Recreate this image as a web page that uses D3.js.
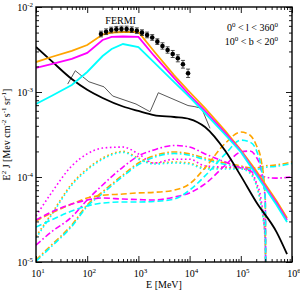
<!DOCTYPE html>
<html>
<head>
<meta charset="utf-8">
<script src="https://cdn.jsdelivr.net/npm/d3@7"></script>
<style>
body { margin: 0; background: #fff; }
text { font-family: "Liberation Serif", "Times New Roman", serif; fill: #000; }
</style>
</head>
<body>
<svg width="300" height="290"></svg>
<script>
// energies in MeV, fluxes in Mev cm^-2 s^-1 sr^-1
var lowE = [10, 20, 50, 100, 200, 500, 1e3, 2e3, 5e3, 1e4, 2e4, 5e4, 1e5, 1.5e5, 2e5, 2.5e5, 3e5, 3.1e5];
var magentaDotted = [3.48e-5, 6.5e-5, 1.35e-4, 1.87e-4, 2.19e-4, 2.25e-4, 1.87e-4, 1.46e-4, 1.62e-4, 1.62e-4, 1.35e-4, 1.31e-4, 1.31e-4, 1.21e-4, 8.7e-5, 5.36e-5, 1.82e-5, 1e-6];
var orangeDotted = [2.0e-5, 3.68e-5, 8.3e-5, 1.25e-4, 1.67e-4, 2.0e-4, 1.67e-4, 1.46e-4, 1.5e-4, 1.46e-4, 1.28e-4, 1.28e-4, 1.28e-4, 1.15e-4, 8.3e-5, 4.69e-5, 1.82e-5, 1e-6];
var cyanDotted = [1.92e-5, 3.55e-5, 8.0e-5, 1.21e-4, 1.62e-4, 1.95e-4, 1.62e-4, 1.42e-4, 1.46e-4, 1.42e-4, 1.24e-4, 1.24e-4, 1.24e-4, 1.11e-4, 8.0e-5, 4.5e-5, 1.75e-5, 1e-6];
var magentaDashed = [3.12e-5, 3.87e-5, 4.81e-5, 5.36e-5, 5.66e-5, 5.5e-5, 5.43e-5, 5.36e-5, 5.8e-5, 6.5e-5, 8.3e-5, 1.38e-4, 1.97e-4, 2.02e-4, 1.72e-4, 1.21e-4, 5.36e-5, 1e-6];
var orangeDashed = [3.04e-5, 3.77e-5, 4.81e-5, 5.66e-5, 6.1e-5, 6.3e-5, 6.5e-5, 6.6e-5, 7.0e-5, 8.3e-5, 1.28e-4, 2.5e-4, 3.38e-4, 3.12e-4, 2.38e-4, 1.58e-4, 5.8e-5, 1e-6];
var cyanDashed = [2.58e-5, 3.12e-5, 3.98e-5, 4.56e-5, 4.94e-5, 5.08e-5, 5.08e-5, 5.15e-5, 5.5e-5, 7.0e-5, 1.03e-4, 1.87e-4, 2.72e-4, 2.58e-4, 2.08e-4, 1.28e-4, 5.36e-5, 1e-6];

var dashDotE = [10, 20, 50, 100, 200, 500, 1e3, 2e3, 5e3, 1e4, 2e4, 5e4, 1e5, 1.5e5, 2e5, 2.5e5, 3e5, 4.7e5, 1e6];
var magentaDashDot = [1.58e-5, 2.26e-5, 3.39e-5, 5.36e-5, 8.05e-5, 1.31e-4, 1.77e-4, 2.08e-4, 2.35e-4, 2.25e-4, 1.87e-4, 1.5e-4, 1.28e-4, 1.18e-4, 1.09e-4, 1.03e-4, 1.0e-4, 9.7e-5, 1.0e-4];
var orangeDashDot = [1.06e-5, 1.58e-5, 2.73e-5, 4.69e-5, 6.7e-5, 1.06e-4, 1.46e-4, 1.77e-4, 1.97e-4, 1.87e-4, 1.67e-4, 1.46e-4, 1.35e-4, 1.28e-4, 1.28e-4, 1.31e-4, 1.35e-4, 1.38e-4, 1.5e-4];
var cyanDashDot = [1.02e-5, 1.52e-5, 2.62e-5, 4.5e-5, 6.4e-5, 1.02e-4, 1.4e-4, 1.7e-4, 1.89e-4, 1.8e-4, 1.6e-4, 1.4e-4, 1.3e-4, 1.23e-4, 1.23e-4, 1.26e-4, 1.3e-4, 1.33e-4, 1.44e-4];

var solidE = [10, 20, 50, 100, 200, 300, 500, 1e3, 2e3, 5e3, 1e4, 2e4, 5e4, 1e5, 2e5, 5e5, 8e5];
var orangeSolid = [2.25e-3, 2.58e-3, 3.04e-3, 3.57e-3, 4.74e-3, 5.01e-3, 5.08e-3, 5.08e-3, 3.04e-3, 1.57e-3, 1.0e-3, 6.48e-4, 3.47e-4, 2.08e-4, 1.18e-4, 5.22e-5, 3.29e-5];
var magentaSolid = [1.92e-3, 2.13e-3, 2.45e-3, 2.88e-3, 4.09e-3, 4.44e-3, 4.5e-3, 4.44e-3, 2.69e-3, 1.46e-3, 9.2e-4, 5.98e-4, 3.29e-4, 2.02e-4, 1.11e-4, 4.94e-5, 3.12e-5];
var cyanSolid = [7.22e-4, 8.97e-4, 1.21e-3, 1.72e-3, 2.65e-3, 3.21e-3, 3.67e-3, 3.38e-3, 2.25e-3, 1.31e-3, 8.73e-4, 5.66e-4, 3.12e-4, 1.97e-4, 1.06e-4, 4.69e-5, 2.96e-5];

var blackE = [10, 20, 50, 100, 200, 500, 1e3, 2e3, 5e3, 1e4, 2e4, 5e4, 1e5, 2e5, 5e5, 8e5];
var blackSolid = [3.38e-3, 2.32e-3, 1.42e-3, 1.06e-3, 8.5e-4, 6.75e-4, 5.98e-4, 5.36e-4, 5.08e-4, 4.81e-4, 3.87e-4, 2.02e-4, 1.03e-4, 5.08e-5, 2.25e-5, 1.24e-5];

var grayE = [41.6, 58.6, 108, 213, 315, 898, 1690, 2450, 9300, 12700, 17200, 25000];
var graySolid = [1.24e-3, 1.78e-3, 1.32e-3, 1.15e-3, 8.97e-4, 7.22e-4, 5.86e-4, 9.8e-4, 6.93e-4, 6.72e-4, 6.43e-4, 3.74e-4];

var fermiE = [186, 234, 295, 371, 467, 588, 741, 933, 1175, 1479, 1862, 2344, 2951, 3715, 4677, 5888, 7413, 9333];
var fermiFlux = [4.81e-3, 5.12e-3, 5.36e-3, 5.47e-3, 5.51e-3, 5.51e-3, 5.41e-3, 5.26e-3, 4.99e-3, 4.69e-3, 4.38e-3, 3.91e-3, 3.48e-3, 3.12e-3, 2.8e-3, 2.49e-3, 2.12e-3, 1.66e-3];
var fermiErr = [0.08, 0.08, 0.08, 0.08, 0.08, 0.08, 0.08, 0.08, 0.08, 0.08, 0.08, 0.08, 0.09, 0.09, 0.1, 0.1, 0.11, 0.12];

var xMajor = [10, 100, 1e3, 1e4, 1e5, 1e6];
var xLabels = ["1", "2", "3", "4", "5", "6"];
var yMajor = [1e-5, 1e-4, 1e-3, 1e-2];
var yLabels = ["-5", "-4", "-3", "-2"];

var svg = d3.select("svg");
var margin = { top: 7, right: 8, bottom: 28, left: 36 },
    width = +svg.attr("width") - margin.left - margin.right,
    height = +svg.attr("height") - margin.top - margin.bottom;

var x = d3.scaleLog().domain([10, 1e6]).range([0, width]);
var y = d3.scaleLog().domain([1e-5, 1e-2]).range([height, 0]);

function minors(lo, hi) {
    var out = [];
    for (var p = lo; p < hi; p++)
        for (var k = 2; k <= 9; k++) out.push(k * Math.pow(10, p));
    return out;
}
var xMinor = minors(1, 6), yMinor = minors(-5, -2);

var g = svg.append("g").attr("transform", "translate(" + margin.left + "," + margin.top + ")");

g.append("clipPath").attr("id", "clip")
    .append("rect").attr("width", width).attr("height", height);

var plot = g.append("g").attr("clip-path", "url(#clip)");

function draw(es, vs, color, w, dash, curve) {
    var line = d3.line()
        .x(function (d) { return x(d[0]); })
        .y(function (d) { return y(d[1]); })
        .curve(curve || d3.curveMonotoneX);
    plot.append("path")
        .datum(d3.zip(es, vs))
        .attr("d", line)
        .attr("fill", "none")
        .attr("stroke", color)
        .attr("stroke-width", w)
        .attr("stroke-dasharray", dash || null);
}

var DOT = "1.6,2.6", DASH = "6,3", DASHDOT = "6,2.5,1.6,2.5";
var ORANGE = "#ffa500", MAGENTA = "#ff00ff", CYAN = "#00ffff";

draw(dashDotE, orangeDashDot, ORANGE, 1.6, DASHDOT);
draw(dashDotE, cyanDashDot, CYAN, 1.6, DASHDOT);
draw(dashDotE, magentaDashDot, MAGENTA, 1.6, DASHDOT);
draw(lowE, orangeDotted, ORANGE, 1.6, DOT);
draw(lowE, cyanDotted, CYAN, 1.6, DOT);
draw(lowE, magentaDotted, MAGENTA, 1.6, DOT);
draw(lowE, orangeDashed, ORANGE, 1.6, DASH);
draw(lowE, magentaDashed, MAGENTA, 1.6, DASH);
draw(lowE, cyanDashed, CYAN, 1.6, DASH);

draw(grayE, graySolid, "#444", 0.9, null, d3.curveLinear);
draw(blackE, blackSolid, "#000", 1.8);
draw(solidE, orangeSolid, ORANGE, 1.8, null, d3.curveLinear);
draw(solidE, magentaSolid, MAGENTA, 1.8, null, d3.curveLinear);
draw(solidE, cyanSolid, CYAN, 1.8, null, d3.curveLinear);

// FERMI points
var fermi = d3.zip(fermiE, fermiFlux, fermiErr);
var pts = g.append("g");
pts.selectAll("line.bar").data(fermi).enter().append("line")
    .attr("x1", function (d) { return x(d[0]); })
    .attr("x2", function (d) { return x(d[0]); })
    .attr("y1", function (d) { return y(d[1] * (1 + d[2])); })
    .attr("y2", function (d) { return y(d[1] / (1 + d[2])); })
    .attr("stroke", "#222").attr("stroke-width", 0.8);
[1, -1].forEach(function (s) {
    pts.selectAll("line.cap" + s).data(fermi).enter().append("line")
        .attr("x1", function (d) { return x(d[0]) - 2; })
        .attr("x2", function (d) { return x(d[0]) + 2; })
        .attr("y1", function (d) { return y(s > 0 ? d[1] * (1 + d[2]) : d[1] / (1 + d[2])); })
        .attr("y2", function (d) { return y(s > 0 ? d[1] * (1 + d[2]) : d[1] / (1 + d[2])); })
        .attr("stroke", "#222").attr("stroke-width", 0.8);
});
pts.selectAll("circle").data(fermi).enter().append("circle")
    .attr("cx", function (d) { return x(d[0]); })
    .attr("cy", function (d) { return y(d[1]); })
    .attr("r", 2.3).attr("fill", "#000");

// axes, ticks pointing inward on all four sides
function axis(gen, scale, vals, len, tr) {
    g.append("g").attr("transform", tr || null)
        .call(gen(scale).tickValues(vals).tickSize(-len).tickFormat(""))
        .call(function (s) { s.select(".domain").remove(); s.selectAll("line").attr("stroke-width", 0.9); });
}
axis(d3.axisBottom, x, xMinor, 3, "translate(0," + height + ")");
axis(d3.axisBottom, x, xMajor, 6, "translate(0," + height + ")");
axis(d3.axisTop, x, xMinor, 3);
axis(d3.axisTop, x, xMajor, 6);
axis(d3.axisLeft, y, yMinor, 3);
axis(d3.axisLeft, y, yMajor, 6);
axis(d3.axisRight, y, yMinor, 3, "translate(" + width + ",0)");
axis(d3.axisRight, y, yMajor, 6, "translate(" + width + ",0)");

g.append("rect").attr("width", width).attr("height", height)
    .attr("fill", "none").attr("stroke", "#000").attr("stroke-width", 1.4);

function pow10(sel, exp) {
    sel.append("tspan").text("10");
    sel.append("tspan").attr("dy", -4).attr("font-size", 7).text(exp);
}

xMajor.forEach(function (v, i) {
    g.append("text").attr("x", x(v) + 2).attr("y", height + 15)
        .attr("text-anchor", "middle").attr("font-size", 10)
        .call(pow10, xLabels[i]);
});
yMajor.forEach(function (v, i) {
    g.append("text").attr("x", -3).attr("y", y(v) + 4)
        .attr("text-anchor", "end").attr("font-size", 10)
        .call(pow10, yLabels[i]);
});

g.append("text").attr("x", width / 2).attr("y", height + 26)
    .attr("text-anchor", "middle").attr("font-size", 10).text("E [MeV]");

var yt = g.append("text")
    .attr("transform", "translate(-26," + (height / 2) + ") rotate(-90)")
    .attr("text-anchor", "middle").attr("font-size", 10);
yt.append("tspan").text("E");
yt.append("tspan").attr("dy", -4).attr("font-size", 7).text("2");
yt.append("tspan").attr("dy", 4).text(" J [Mev cm");
yt.append("tspan").attr("dy", -4).attr("font-size", 7).text("-2");
yt.append("tspan").attr("dy", 4).text(" s");
yt.append("tspan").attr("dy", -4).attr("font-size", 7).text("-1");
yt.append("tspan").attr("dy", 4).text(" sr");
yt.append("tspan").attr("dy", -4).attr("font-size", 7).text("-1");
yt.append("tspan").attr("dy", 4).text("]");

g.append("text").attr("x", x(450)).attr("y", 17)
    .attr("text-anchor", "middle").attr("font-size", 10).text("FERMI");

function region(yy, parts) {
    var t = g.append("text").attr("x", width - 14).attr("y", yy)
        .attr("text-anchor", "end").attr("font-size", 10);
    parts.forEach(function (p) {
        if (p.sup) t.append("tspan").attr("dy", -4).attr("font-size", 7).text(p.sup);
        else t.append("tspan").attr("dy", p.back ? 4 : 0).text(p.t);
    });
}
region(24, [{ t: "0" }, { sup: "0" }, { t: " < l < 360", back: 1 }, { sup: "0" }]);
region(38, [{ t: "10" }, { sup: "0" }, { t: " < b < 20", back: 1 }, { sup: "0" }]);
</script>
</body>
</html>
